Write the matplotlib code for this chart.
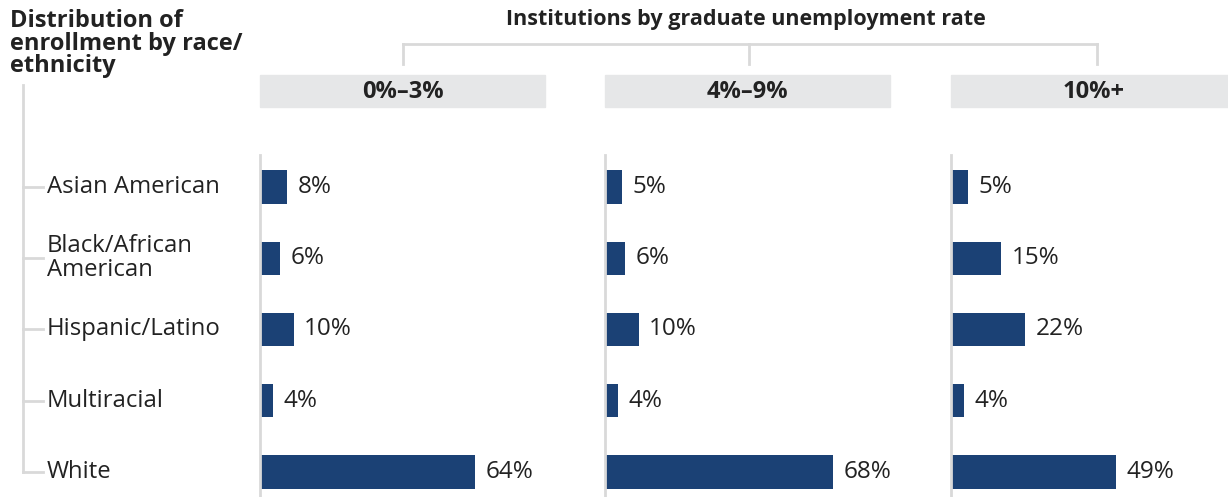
import matplotlib.pyplot as plt
from matplotlib.lines import Line2D
from matplotlib.patches import Rectangle
from matplotlib.transforms import blended_transform_factory

plt.rcParams["font.family"] = ["Open Sans", "DejaVu Sans"]

categories = ["Asian American", "Black/African\nAmerican", "Hispanic/Latino",
              "Multiracial", "White"]
groups = ["0%–3%", "4%–9%", "10%+"]
low_rate = [8, 6, 10, 4, 64]
mid_rate = [5, 6, 10, 4, 68]
high_rate = [5, 15, 22, 4, 49]
series = [low_rate, mid_rate, high_rate]

W, H = 1228, 497
BAR = "#1b4175"
GRID = "#d9d9d9"
BOX = "#e6e7e8"
TEXT = "#222222"


def fx(x):
    return x / W


def fy(y):
    return 1 - y / H


fig = plt.figure(figsize=(W / 100, H / 100), dpi=100)

# panel geometry in pixels
lefts = [260, 605, 951]
panel_w = 287
top, bottom = 155, 497
first, step = 187, 71.25
ylim = ((bottom - first) / step, (top - first) / step)
xmax = panel_w / 3.36

axes = []
for left, vals, grp in zip(lefts, series, groups):
    ax = fig.add_axes([fx(left), fy(bottom), fx(panel_w), (bottom - top) / H])
    ax.barh(range(len(vals)), vals, height=0.465, color=BAR)
    for i, v in enumerate(vals):
        ax.annotate(f"{v}%", (v, i), xytext=(7.5, 0), textcoords="offset points",
                    va="center", ha="left", fontsize=17.5, color=TEXT)
    ax.set_xlim(0, xmax)
    ax.set_ylim(*ylim)
    for s in ["top", "right", "bottom"]:
        ax.spines[s].set_visible(False)
    ax.spines["left"].set_color(GRID)
    ax.spines["left"].set_linewidth(2)
    ax.set_xticks([])
    ax.set_yticks([])
    ax.patch.set_alpha(0)

    # grey header box with group label
    fig.patches.append(Rectangle((fx(left), fy(107)), fx(285), (107 - 75) / H,
                                 transform=fig.transFigure, color=BOX, zorder=0))
    fig.text(fx(left + 285 / 2), fy(92), grp, ha="center", va="center",
             fontsize=17, fontweight="bold", color=TEXT)
    axes.append(ax)

# category labels and left bracket
trans = blended_transform_factory(fig.transFigure, axes[0].transData)
for i, cat in enumerate(categories):
    fig.text(fx(47), i, cat, transform=trans, ha="left", va="center",
             fontsize=17.2, color=TEXT, linespacing=1.02)
    fig.add_artist(Line2D([fx(23), fx(43)], [i, i], transform=trans,
                          color=GRID, lw=2))
y_last = axes[0].transData.transform((0, len(categories) - 1))[1] / fig.bbox.height
fig.add_artist(Line2D([fx(23), fx(23)], [fy(85), y_last], color=GRID, lw=2))

fig.text(fx(10), fy(9), "Distribution of\nenrollment by race/\nethnicity",
         ha="left", va="top", fontsize=17, fontweight="bold", color=TEXT,
         linespacing=0.92)

# top header and bracket
fig.text(fx(746), fy(20), "Institutions by graduate unemployment rate",
         ha="center", va="center", fontsize=15.5, fontweight="bold", color=TEXT)
fig.add_artist(Line2D([fx(403), fx(1097)], [fy(44), fy(44)], color=GRID, lw=2))
for x in [403, 749, 1097]:
    fig.add_artist(Line2D([fx(x), fx(x)], [fy(44), fy(64)], color=GRID, lw=2))

fig.savefig("out.png", dpi=100, facecolor="white")
